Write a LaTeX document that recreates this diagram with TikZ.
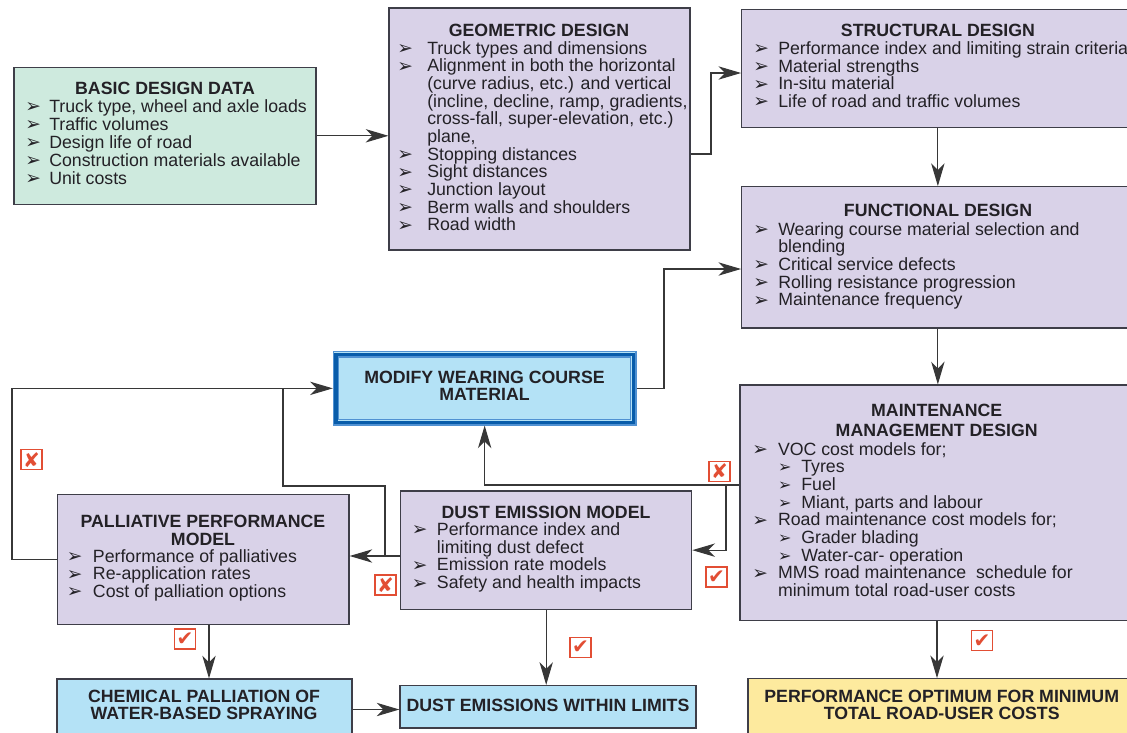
\documentclass[tikz,border=0pt]{standalone}
\usepackage{fontspec}
\setmainfont{Liberation Sans}
\newfontfamily\djv{DejaVu Sans}
\usetikzlibrary{arrows.meta,fit}
\definecolor{mint}{RGB}{206,234,222}
\definecolor{lav}{RGB}{217,210,232}
\definecolor{sky}{RGB}{180,226,246}
\definecolor{navy}{RGB}{8,92,170}
\definecolor{midblue}{RGB}{80,145,210}
\definecolor{butter}{RGB}{253,234,158}
\definecolor{bordc}{RGB}{62,62,72}
\definecolor{linec}{RGB}{55,55,55}
\definecolor{txtc}{RGB}{35,33,38}
\definecolor{redc}{RGB}{226,78,52}
\newcommand{\fs}{\fontsize{13.3}{13.2}\selectfont}
\newlength{\bw}
\newcommand{\bul}{\raisebox{-0.3pt}{\djv\fontsize{14}{14}\selectfont ➢}}
\newcommand{\sbul}{\raisebox{0pt}{\djv\fontsize{12}{12}\selectfont ➢}}
\newcommand{\B}{\makebox[\bw][l]{\bul}}
\newcommand{\C}{\hspace*{\bw}}
\newcommand{\SB}{\C\makebox[17.5pt][l]{\sbul}}
\newcommand{\lst}[3]{\setlength{\bw}{#1}\parbox[t]{500pt}{\fontsize{13.3}{#2}\selectfont #3}}
\begin{document}
\begin{tikzpicture}[x=0.75pt,y=-0.75pt,
 box/.style={draw=bordc, line width=0.9pt, inner sep=0},
 ttl/.style={font=\fs\bfseries, text=txtc, inner sep=0, anchor=base},
 lst/.style={font=\fs, text=txtc, inner sep=0, anchor=base west},
 conn/.style={draw=linec, line width=0.85pt},
 arr/.style={conn, -{Stealth[length=17pt,width=10pt,inset=5pt]}},
 mk/.style={draw=redc, fill=white, line width=0.8pt, minimum width=15.75pt, minimum height=15pt, inner sep=0, text=redc, font=\djv\fontsize{15}{15}\selectfont}]
\useasboundingbox (0,0) rectangle (1127,732);
\fill[white] (0,0) rectangle (1127,732);

% ---- boxes
\node[box, fill=mint, fit={(14,67.3) (316,204.3)}] (basic) {};
\node[ttl] (basicT) at (165,94) {BASIC DESIGN DATA};
\node[lst] (basicL) at (25,112) {\lst{18pt}{13.55pt}{\B Truck type, wheel and axle loads\\\B Traffic volumes\\\B Design life of road\\\B Construction materials available\\\B Unit costs}};

\node[box, fill=lav, fit={(389,8) (690,250)}] (geo) {};
\node[ttl] (geoT) at (539,36) {GEOMETRIC DESIGN};
\node[lst] (geoL) at (397,54) {\lst{22.5pt}{13.25pt}{\B Truck types and dimensions\\\B Alignment in both the horizontal\\\C (curve radius, etc.) and vertical\\\C (incline, decline, ramp, gradients,\\\C cross-fall, super-elevation, etc.)\\\C plane,\\\B Stopping distances\\\B Sight distances\\\B Junction layout\\\B Berm walls and shoulders\\\B Road width}};

\node[box, fill=lav, fit={(741.7,9.3) (1134,127.3)}] (struct) {};
\node[ttl] (structT) at (938,36) {STRUCTURAL DESIGN};
\node[lst] (structL) at (753,54.5) {\lst{18.75pt}{13.2pt}{\B Performance index and limiting strain criteria\\\B Material strengths\\\B In-situ material\\\B Life of road and traffic volumes}};

\node[box, fill=lav, fit={(741.7,186.7) (1134,328)}] (func) {};
\node[ttl] (funcT) at (938,216.5) {FUNCTIONAL DESIGN};
\node[lst] (funcL) at (753,235) {\lst{18.75pt}{13.25pt}{\B Wearing course material selection and\\\C blending\\\B Critical service defects\\\B Rolling resistance progression\\\B Maintenance frequency}};

\node[fit={(333.3,351.7) (636,425)}, inner sep=0, fill=sky, draw=midblue, line width=0.8pt] (mod) {};
\draw[navy, line width=2.5pt] ([xshift=2.5pt,yshift=-2.5pt]mod.north west) rectangle ([xshift=-2.5pt,yshift=2.5pt]mod.south east);
\draw[midblue, line width=0.9pt] ([xshift=4.4pt,yshift=-4.4pt]mod.north west) rectangle ([xshift=-4.4pt,yshift=4.4pt]mod.south east);
\node[ttl] (modT1) at (484.5,383) {MODIFY WEARING COURSE};
\node[ttl] (modT2) at (484.5,400.5) {MATERIAL};

\node[box, fill=lav, fit={(740,385) (1134,620.7)}] (maint) {};
\node[ttl] (maintT1) at (936.7,416) {MAINTENANCE};
\node[ttl] (maintT2) at (936.7,436.5) {MANAGEMENT DESIGN};
\node[lst] (maintL) at (752,455) {\lst{19.3pt}{13.25pt}{\B VOC cost models for;\\\SB Tyres\\\SB Fuel\\\SB Miant, parts and labour\\\B Road maintenance cost models for;\\\SB Grader blading\\\SB Water-car- operation\\\B MMS road maintenance\ \ schedule for\\\C minimum total road-user costs}};

\node[box, fill=lav, fit={(400.7,491) (691.7,609.3)}] (dust) {};
\node[ttl] (dustT) at (546,518) {DUST EMISSION MODEL};
\node[lst] (dustL) at (411.7,535.5) {\lst{18.75pt}{13.3pt}{\B Performance index and\\\C limiting dust defect\\\B Emission rate models\\\B Safety and health impacts}};

\node[box, fill=lav, fit={(57.3,494.3) (349,624.5)}] (pall) {};
\node[ttl] (pallT1) at (203,527.5) {PALLIATIVE PERFORMANCE};
\node[ttl] (pallT2) at (203,545) {MODEL};
\node[lst] (pallL) at (66.7,562) {\lst{19.5pt}{13.3pt}{\B Performance of palliatives\\\B Re-application rates\\\B Cost of palliation options}};

\node[box, fill=sky, fit={(57,679) (352,740)}] (chem) {};
\node[ttl] (chemT1) at (204,702) {CHEMICAL PALLIATION OF};
\node[ttl] (chemT2) at (204,719) {WATER-BASED SPRAYING};

\node[box, fill=sky, fit={(400,685.5) (696,728)}] (lim) {};
\node[ttl] (limT) at (548,711) {DUST EMISSIONS WITHIN LIMITS};

\node[box, fill=butter, fit={(748,678.7) (1134,740)}] (perf) {};
\node[ttl] (perfT1) at (941.7,702) {PERFORMANCE OPTIMUM FOR MINIMUM};
\node[ttl] (perfT2) at (941.7,719.5) {TOTAL ROAD-USER COSTS};

% ---- connectors
\draw[arr] (basic.east) -- (basic.east -| geo.west);
\coordinate (gs1) at (711,154);
\coordinate (gs2) at (711,73);
\draw[arr] (geo.east |- gs1) -- (gs1) -- (gs2) -- (struct.west |- gs2);
\draw[arr] (struct.south) -- (func.north);
\draw[arr] (func.south) -- (func.south |- maint.north);
\draw[arr] (maint.south) -- (maint.south |- perf.north);
\coordinate (mf) at (664,269);
\draw[arr] (mod.east) -| (mf) -- (func.west |- mf);
\coordinate (mk) at (726,485);
\draw[arr] (maint.west |- mk) -- (mod.south |- mk) -- (mod.south);
\draw[arr] (mk) |- (dust.east);
\coordinate (dp) at (385,556);
\draw[arr] (dust.west |- dp) -- (pall.east |- dp);
\coordinate (dq) at (283,486);
\draw[conn] (dp) |- (dq) -- (dq |- mod.west);
\coordinate (lc) at (12,450);
\draw[arr] (pall.west) -| (lc) |- (mod.west);
\coordinate (pc) at (209,650);
\draw[arr] (pall.south -| pc) -- (chem.north -| pc);
\draw[arr] (dust.south) -- (dust.south |- lim.north);
\draw[arr] (chem.east) -- (chem.east -| lim.west);

% ---- marks
\node[mk] (x1) at (31.5,459.7) {✘};
\node[mk] (x2) at (385.5,585) {✘};
\node[mk] (x3) at (719.5,471.5) {✘};
\node[mk] (c1) at (716.5,577) {✔};
\node[mk] (c2) at (185,639) {✔};
\node[mk] (c3) at (580.5,647.5) {✔};
\node[mk] (c4) at (982,640.7) {✔};
\end{tikzpicture}
\end{document}
